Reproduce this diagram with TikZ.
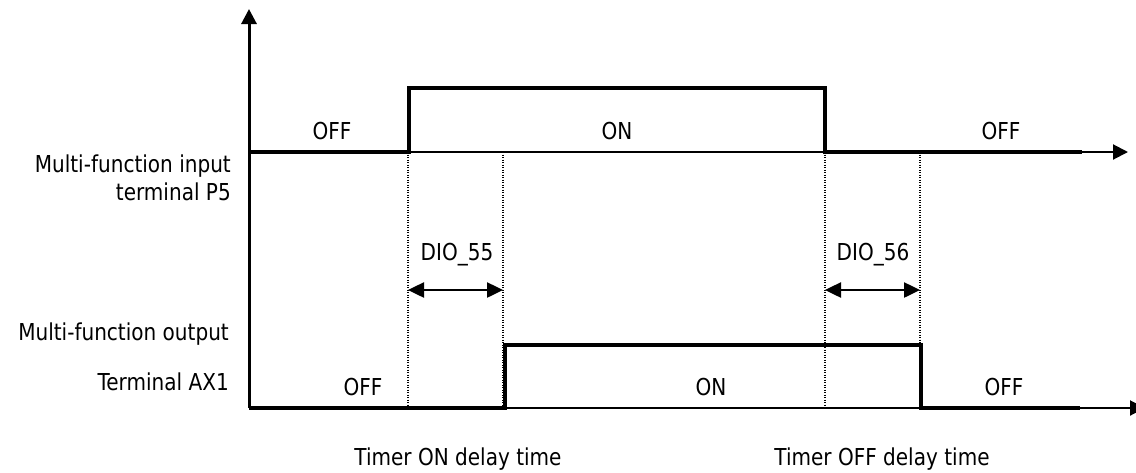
\documentclass[tikz,border=0pt]{standalone}
\usepackage{fontspec}
\setmainfont{DejaVu Sans}[FakeStretch=0.86]
\usetikzlibrary{arrows.meta, positioning}
\tikzstyle{axis}=[-{Triangle[length=15pt,width=15pt]}, line width=2pt, color=black]
\tikzstyle{signal}=[line width=3.5pt, line join=miter, color=black]

\begin{document}
\begin{tikzpicture}[x=1pt, y=-1pt,
  lbl/.style={inner sep=0pt, anchor=base, font=\fontsize{23.3}{27}\selectfont},
  side/.style={lbl, anchor=base east},
  guide/.style={line width=1.2pt, dash pattern=on 1.2pt off 1.3pt},
  span/.style={{Triangle[length=16pt,width=15pt]}-{Triangle[length=16pt,width=15pt]}, line width=2.5pt}
]
\useasboundingbox (0,0) rectangle (1136,472);

% time instants
\coordinate (t1) at (408,0);
\coordinate (t2) at (503,0);
\coordinate (t3) at (825,0);
\coordinate (t4) at (920,0);

% axes
\coordinate (orig) at (249,408);
\coordinate (top)  at (249,9);
\coordinate (inax) at (249,152);
\coordinate (inend) at (1128,152);
\coordinate (outend) at (1145,408);
\draw[axis, line width=3pt] (orig) -- (top);
\draw[axis] (inax) -- (inend);
\draw[axis] (orig) -- (outend);

% dotted guides
\foreach \t in {t1,t2,t3,t4}
  \draw[guide] (\t |- inax) -- (\t |- orig);

% input P5
\draw[signal] (inax) -- (409,152) -- (409,88) -- (825,88) -- (825,152) -- (1082,152);
% output AX1
\draw[signal] (orig) -- (505,408) -- (505,345) -- (921,345) -- (921,408) -- (1080,408);

% delay spans
\draw[span] (t1 |- 0,290) -- (t2 |- 0,290);
\draw[span] (t3 |- 0,290) -- (t4 |- 0,290);
\node[lbl] (dio55) at (457,260) {DIO\_55};
\node[lbl] (dio56) at (873,260) {DIO\_56};

% states
\node[lbl] (inoff1) at (332,139) {OFF};
\node[lbl] (inon)   at (617,139) {ON};
\node[lbl] (inoff2) at (1001,139) {OFF};
\node[lbl] (outoff1) at (363,395) {OFF};
\node[lbl] (outon)   at (711,395) {ON};
\node[lbl] (outoff2) at (1004,395) {OFF};

% signal names
\node[side] (inname1)  at (231,172) {Multi-function input};
\node[side] (inname2)  at (231,200) {terminal P5};
\node[side] (outname1) at (229,340) {Multi-function output};
\node[side] (outname2) at (229,390) {Terminal AX1};

\node[lbl] (ondly)  at (458,465) {Timer ON delay time};
\node[lbl] (offdly) at (882,465) {Timer OFF delay time};
\end{tikzpicture}
\end{document}
